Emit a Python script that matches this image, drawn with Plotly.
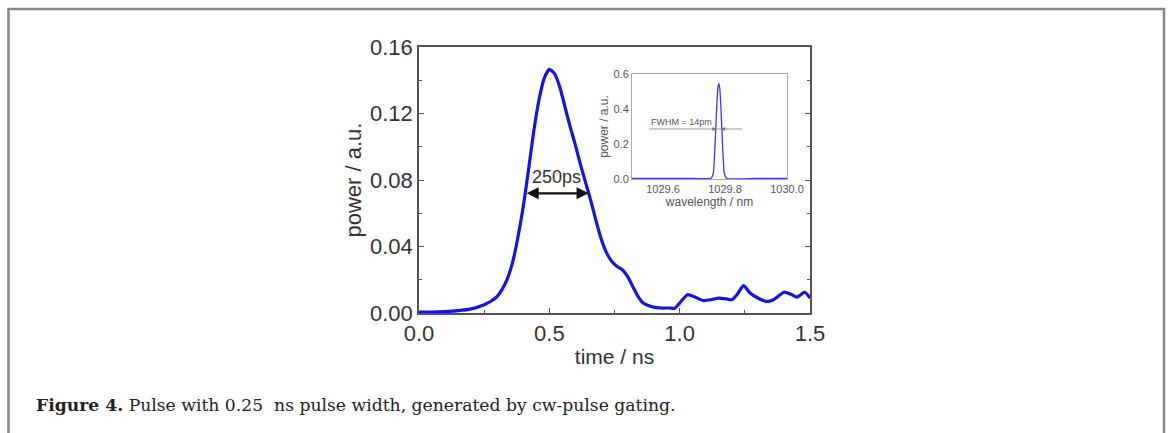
import plotly.graph_objects as go

# main pulse
time_ns = [0.00, 0.05, 0.10, 0.15, 0.20, 0.25, 0.28, 0.30, 0.32, 0.34, 0.36, 0.38, 0.40, 0.42,
           0.44, 0.46, 0.48, 0.50, 0.52, 0.54, 0.56, 0.58, 0.60, 0.62, 0.64, 0.66, 0.68, 0.70,
           0.72, 0.74, 0.76, 0.78, 0.80, 0.82, 0.84, 0.86, 0.88, 0.90, 0.93, 0.96, 0.98, 1.00,
           1.03, 1.06, 1.09, 1.12, 1.15, 1.18, 1.20, 1.22, 1.245, 1.27, 1.30, 1.33, 1.36, 1.40,
           1.43, 1.45, 1.48, 1.50]
power = [0.0005, 0.0005, 0.0008, 0.0014, 0.0025, 0.005, 0.0075, 0.010, 0.0145, 0.021, 0.031, 0.046,
         0.064, 0.086, 0.109, 0.128, 0.141, 0.1465, 0.144, 0.136, 0.124, 0.112, 0.101, 0.089,
         0.078, 0.067, 0.055, 0.044, 0.036, 0.031, 0.028, 0.026, 0.022, 0.016, 0.010, 0.006,
         0.0045, 0.0035, 0.003, 0.003, 0.0028, 0.006, 0.011, 0.0095, 0.0075, 0.008, 0.009,
         0.0085, 0.008, 0.011, 0.0165, 0.012, 0.009, 0.007, 0.008, 0.0125, 0.011, 0.0095,
         0.0125, 0.009]

# inset spectrum
wavelength_nm = [1029.50, 1029.60, 1029.70, 1029.755, 1029.762, 1029.768, 1029.773, 1029.777,
                 1029.780, 1029.783, 1029.787, 1029.792, 1029.798, 1029.805, 1029.90, 1030.00]
spec_power = [0.003, 0.003, 0.003, 0.004, 0.03, 0.20, 0.40, 0.52, 0.545, 0.52, 0.40, 0.20,
              0.03, 0.004, 0.003, 0.003]

fwhm_span = [1029.555, 1029.855]
fwhm_level = 0.286
pulse_width_span = [0.407, 0.651]
pulse_width_level = 0.072

main_x_ticks = [0.0, 0.5, 1.0, 1.5]
main_y_ticks = [0.00, 0.04, 0.08, 0.12, 0.16]
inset_x_ticks = [1029.6, 1029.8, 1030.0]
inset_y_ticks = [0.0, 0.2, 0.4, 0.6]

W, H = 1171, 433
def px(x): return x / W
def py(y): return 1 - y / H

fig = go.Figure()
fig.add_trace(go.Scatter(x=time_ns, y=power, mode="lines",
                         line=dict(color="#1414e6", width=3.2, shape="spline", smoothing=0.6),
                         xaxis="x", yaxis="y", showlegend=False, hoverinfo="skip"))
fig.add_trace(go.Scatter(x=wavelength_nm, y=spec_power, mode="lines",
                         line=dict(color="#3a3ae8", width=1.3, shape="spline", smoothing=0.5),
                         xaxis="x2", yaxis="y2", showlegend=False, hoverinfo="skip"))

axis_col = "#555555"
tick_font = dict(family="Liberation Sans, Arial", size=22, color="#333333")

fig.update_layout(
    width=W, height=H,
    margin=dict(l=0, r=0, t=0, b=0, autoexpand=False),
    paper_bgcolor="white", plot_bgcolor="white",
    xaxis=dict(domain=[px(419), px(810)], range=[0, 1.5], anchor="y", automargin=False,
               tickvals=main_x_ticks, ticktext=["0.0", "0.5", "1.0", "1.5"],
               ticks="inside", ticklen=5, tickcolor=axis_col, tickwidth=1.2,
               minor=dict(dtick=0.25, ticks="inside", ticklen=3, tickcolor=axis_col),
               showline=True, linecolor=axis_col, linewidth=1.6, mirror=True,
               showgrid=False, zeroline=False, tickfont=tick_font,
               title=dict(text="time / ns", font=dict(family="Liberation Sans, Arial", size=21, color="#333333"), standoff=4)),
    yaxis=dict(domain=[py(313), py(47)], range=[0, 0.16], anchor="x", automargin=False,
               tickvals=main_y_ticks, ticktext=["0.00", "0.04", "0.08", "0.12", "0.16"],
               ticks="inside", ticklen=5, tickcolor=axis_col, tickwidth=1.2,
               minor=dict(dtick=0.02, ticks="inside", ticklen=3, tickcolor=axis_col),
               showline=True, linecolor=axis_col, linewidth=1.6, mirror="ticks",
               showgrid=False, zeroline=False, tickfont=tick_font,
               title=dict(text="power / a.u.", font=dict(family="Liberation Sans, Arial", size=22, color="#333333"), standoff=2)),
    xaxis2=dict(domain=[px(632), px(787)], range=[1029.5, 1030.0], anchor="y2", automargin=False,
                tickvals=inset_x_ticks, ticktext=["1029.6", "1029.8", "1030.0"],
                ticks="", showline=True, linecolor="#aaaaaa", linewidth=1, mirror=True,
                showgrid=False, zeroline=False,
                tickfont=dict(family="Liberation Sans, Arial", size=11, color="#555555"),
                title=dict(text="wavelength / nm", font=dict(family="Liberation Sans, Arial", size=12, color="#555555"), standoff=2)),
    yaxis2=dict(domain=[py(179), py(74)], range=[0, 0.6], anchor="x2", automargin=False,
                tickvals=inset_y_ticks, ticktext=["0.0", "0.2", "0.4", "0.6"],
                ticks="", showline=True, linecolor="#aaaaaa", linewidth=1, mirror=True,
                showgrid=False, zeroline=False,
                tickfont=dict(family="Liberation Sans, Arial", size=11, color="#555555"),
                title=dict(text="power / a.u.", font=dict(family="Liberation Sans, Arial", size=12, color="#555555"), standoff=2)),
)

# outer frame
fig.add_shape(type="rect", xref="paper", yref="paper",
              x0=px(8.5), x1=px(1164), y0=-0.05, y1=py(9),
              line=dict(color="#888888", width=2.5), fillcolor="rgba(0,0,0,0)", layer="below")

# 250ps double arrow
fig.add_annotation(x=pulse_width_span[1], y=pulse_width_level, ax=pulse_width_span[0], ay=pulse_width_level,
                   xref="x", yref="y", axref="x", ayref="y", text="", showarrow=True,
                   arrowhead=2, startarrowhead=2, arrowside="end+start", arrowsize=1.1,
                   startarrowsize=1.1, arrowwidth=2.2, arrowcolor="#111111")
fig.add_annotation(x=sum(pulse_width_span) / 2, y=pulse_width_level, xref="x", yref="y",
                   text="250ps", showarrow=False, yanchor="bottom", yshift=4,
                   font=dict(family="Liberation Sans, Arial", size=18, color="#333333"))

# FWHM marker in inset
fig.add_shape(type="line", xref="x2", yref="y2", x0=fwhm_span[0], x1=fwhm_span[1],
              y0=fwhm_level, y1=fwhm_level, line=dict(color="#999999", width=1))
fig.add_annotation(x=1029.772, y=fwhm_level, ax=1029.755, ay=fwhm_level, xref="x2", yref="y2",
                   axref="x2", ayref="y2", text="", showarrow=True, arrowhead=2, arrowsize=0.8,
                   arrowwidth=1, arrowcolor="#777777")
fig.add_annotation(x=1029.788, y=fwhm_level, ax=1029.805, ay=fwhm_level, xref="x2", yref="y2",
                   axref="x2", ayref="y2", text="", showarrow=True, arrowhead=2, arrowsize=0.8,
                   arrowwidth=1, arrowcolor="#777777")
fig.add_annotation(x=fwhm_span[0], y=fwhm_level, xref="x2", yref="y2", text="FWHM = 14pm",
                   showarrow=False, xanchor="left", yanchor="bottom", yshift=0,
                   font=dict(family="Liberation Sans, Arial", size=9, color="#555555"))

# caption
fig.add_annotation(x=px(34), y=py(405), xref="paper", yref="paper", xanchor="left", yanchor="middle",
                   text="<b>Figure 4.</b> Pulse with 0.25  ns pulse width, generated by cw-pulse gating.",
                   showarrow=False, font=dict(family="DejaVu Serif, serif", size=17.2, color="#222222"))

fig.write_html("out.html")
